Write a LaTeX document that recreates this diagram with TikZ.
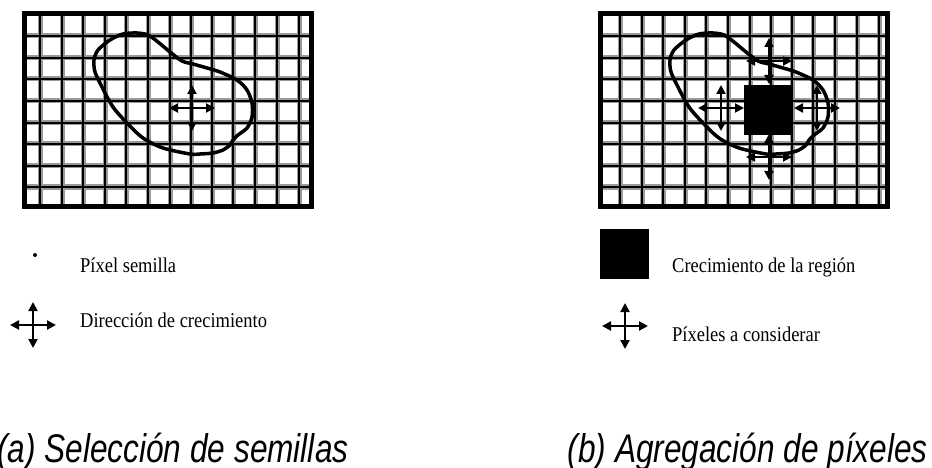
\documentclass[tikz,border=0pt]{standalone}
\usepackage{fontspec}
\setmainfont{Liberation Serif}
\newfontfamily\capfont{Liberation Sans}
\usepackage{graphicx}
\usetikzlibrary{arrows.meta}
\tikzset{>={Triangle[length=9pt,width=9pt]}}
\newcommand{\squeezed}[2]{\scalebox{#1}[1]{#2}}

\begin{document}
\begin{tikzpicture}[x=1pt, y=-1pt,
		gridhalo/.style={draw=black!40, line width=5pt},
		gridcore/.style={draw=black, line width=1.8pt},
		frame/.style={draw=black, line width=5pt},
		blob/.style={draw=black, line width=3.5pt, line join=round},
		grown/.style={fill=black},
		dir/.style={<->, line width=2pt},
		legend/.style={anchor=base west, inner sep=0pt, font=\fontsize{21}{24}\selectfont},
		caption/.style={anchor=base west, inner sep=0pt, font=\capfont\itshape\fontsize{40}{46}\selectfont},
		growth/.pic={\draw[dir] (-23,0) -- (23,0); \draw[dir] (0,-23) -- (0,23);}]
		\useasboundingbox (0,0) rectangle (932,468);
		
		% two image panels: pixel grid, frame and object outline
		\foreach \off/\gx in {0/0, 576/580} {
			\foreach \x in {40,62,83,105,126,148,170,191,212,233,255,277,299}
				\draw[gridhalo] (\x+\gx,14) -- (\x+\gx,206);
			\foreach \y in {36,58,79,101,123,144,166,187}
				\draw[gridhalo] (24.5+\off,\y) -- (311+\off,\y);
			\foreach \x in {40,62,83,105,126,148,170,191,212,233,255,277,299}
				\draw[gridcore] (\x+\gx,14) -- (\x+\gx,206);
			\foreach \y in {36,58,79,101,123,144,166,187}
				\draw[gridcore] (24.5+\off,\y) -- (311+\off,\y);
			\draw[frame] (24.5+\off,14) rectangle (311+\off,206);
			\draw[blob, shift={(\off,0)}] plot[smooth cycle] coordinates {
				(137,33) (148,35) (158,42) (170,52) (182,61) (193,64) (207,68)
				(220,72) (237,80) (247,90) (252,103) (252,117) (247,128) (238,135)
				(233,140) (230,145) (223,150) (213,153) (200,154) (190,154)
				(163,148) (143,138) (127,123) (113,107) (102,87) (95,72) (94,60)
				(98,50) (110,40) (123,34)};
		}
		
		% (a) seed and its growth directions
		\pic (s) at (192,108) {growth};
		
		% (b) grown region and the neighbours to test
		\fill[grown] (744,85) rectangle (793,135);
		\pic (n) at (769,61) {growth};
		\pic (w) at (721,108) {growth};
		\pic (e) at (817,108) {growth};
		\pic (b) at (769,157) {growth};
		
		% legends
		\fill (35,255) circle (2);
		\node[legend] (1) at (80,272) {\squeezed{0.88}{Píxel semilla}};
		\pic (k1) at (33,325) {growth};
		\node[legend] (2) at (80,327) {\squeezed{0.88}{Dirección de crecimiento}};
		\fill[grown] (600,229) rectangle (649,279);
		\node[legend] (3) at (672,272) {\squeezed{0.88}{Crecimiento de la región}};
		\pic (k2) at (625,326) {growth};
		\node[legend] (4) at (672,341) {\squeezed{0.88}{Píxeles a considerar}};
		
		% captions
		\node[caption] (5) at (-3,462) {\squeezed{0.79}{(a) Selección de semillas}};
		\node[caption, anchor=base east] (6) at (928,462) {\squeezed{0.79}{(b) Agregación de píxeles}};
		
	\end{tikzpicture}
\end{document}
